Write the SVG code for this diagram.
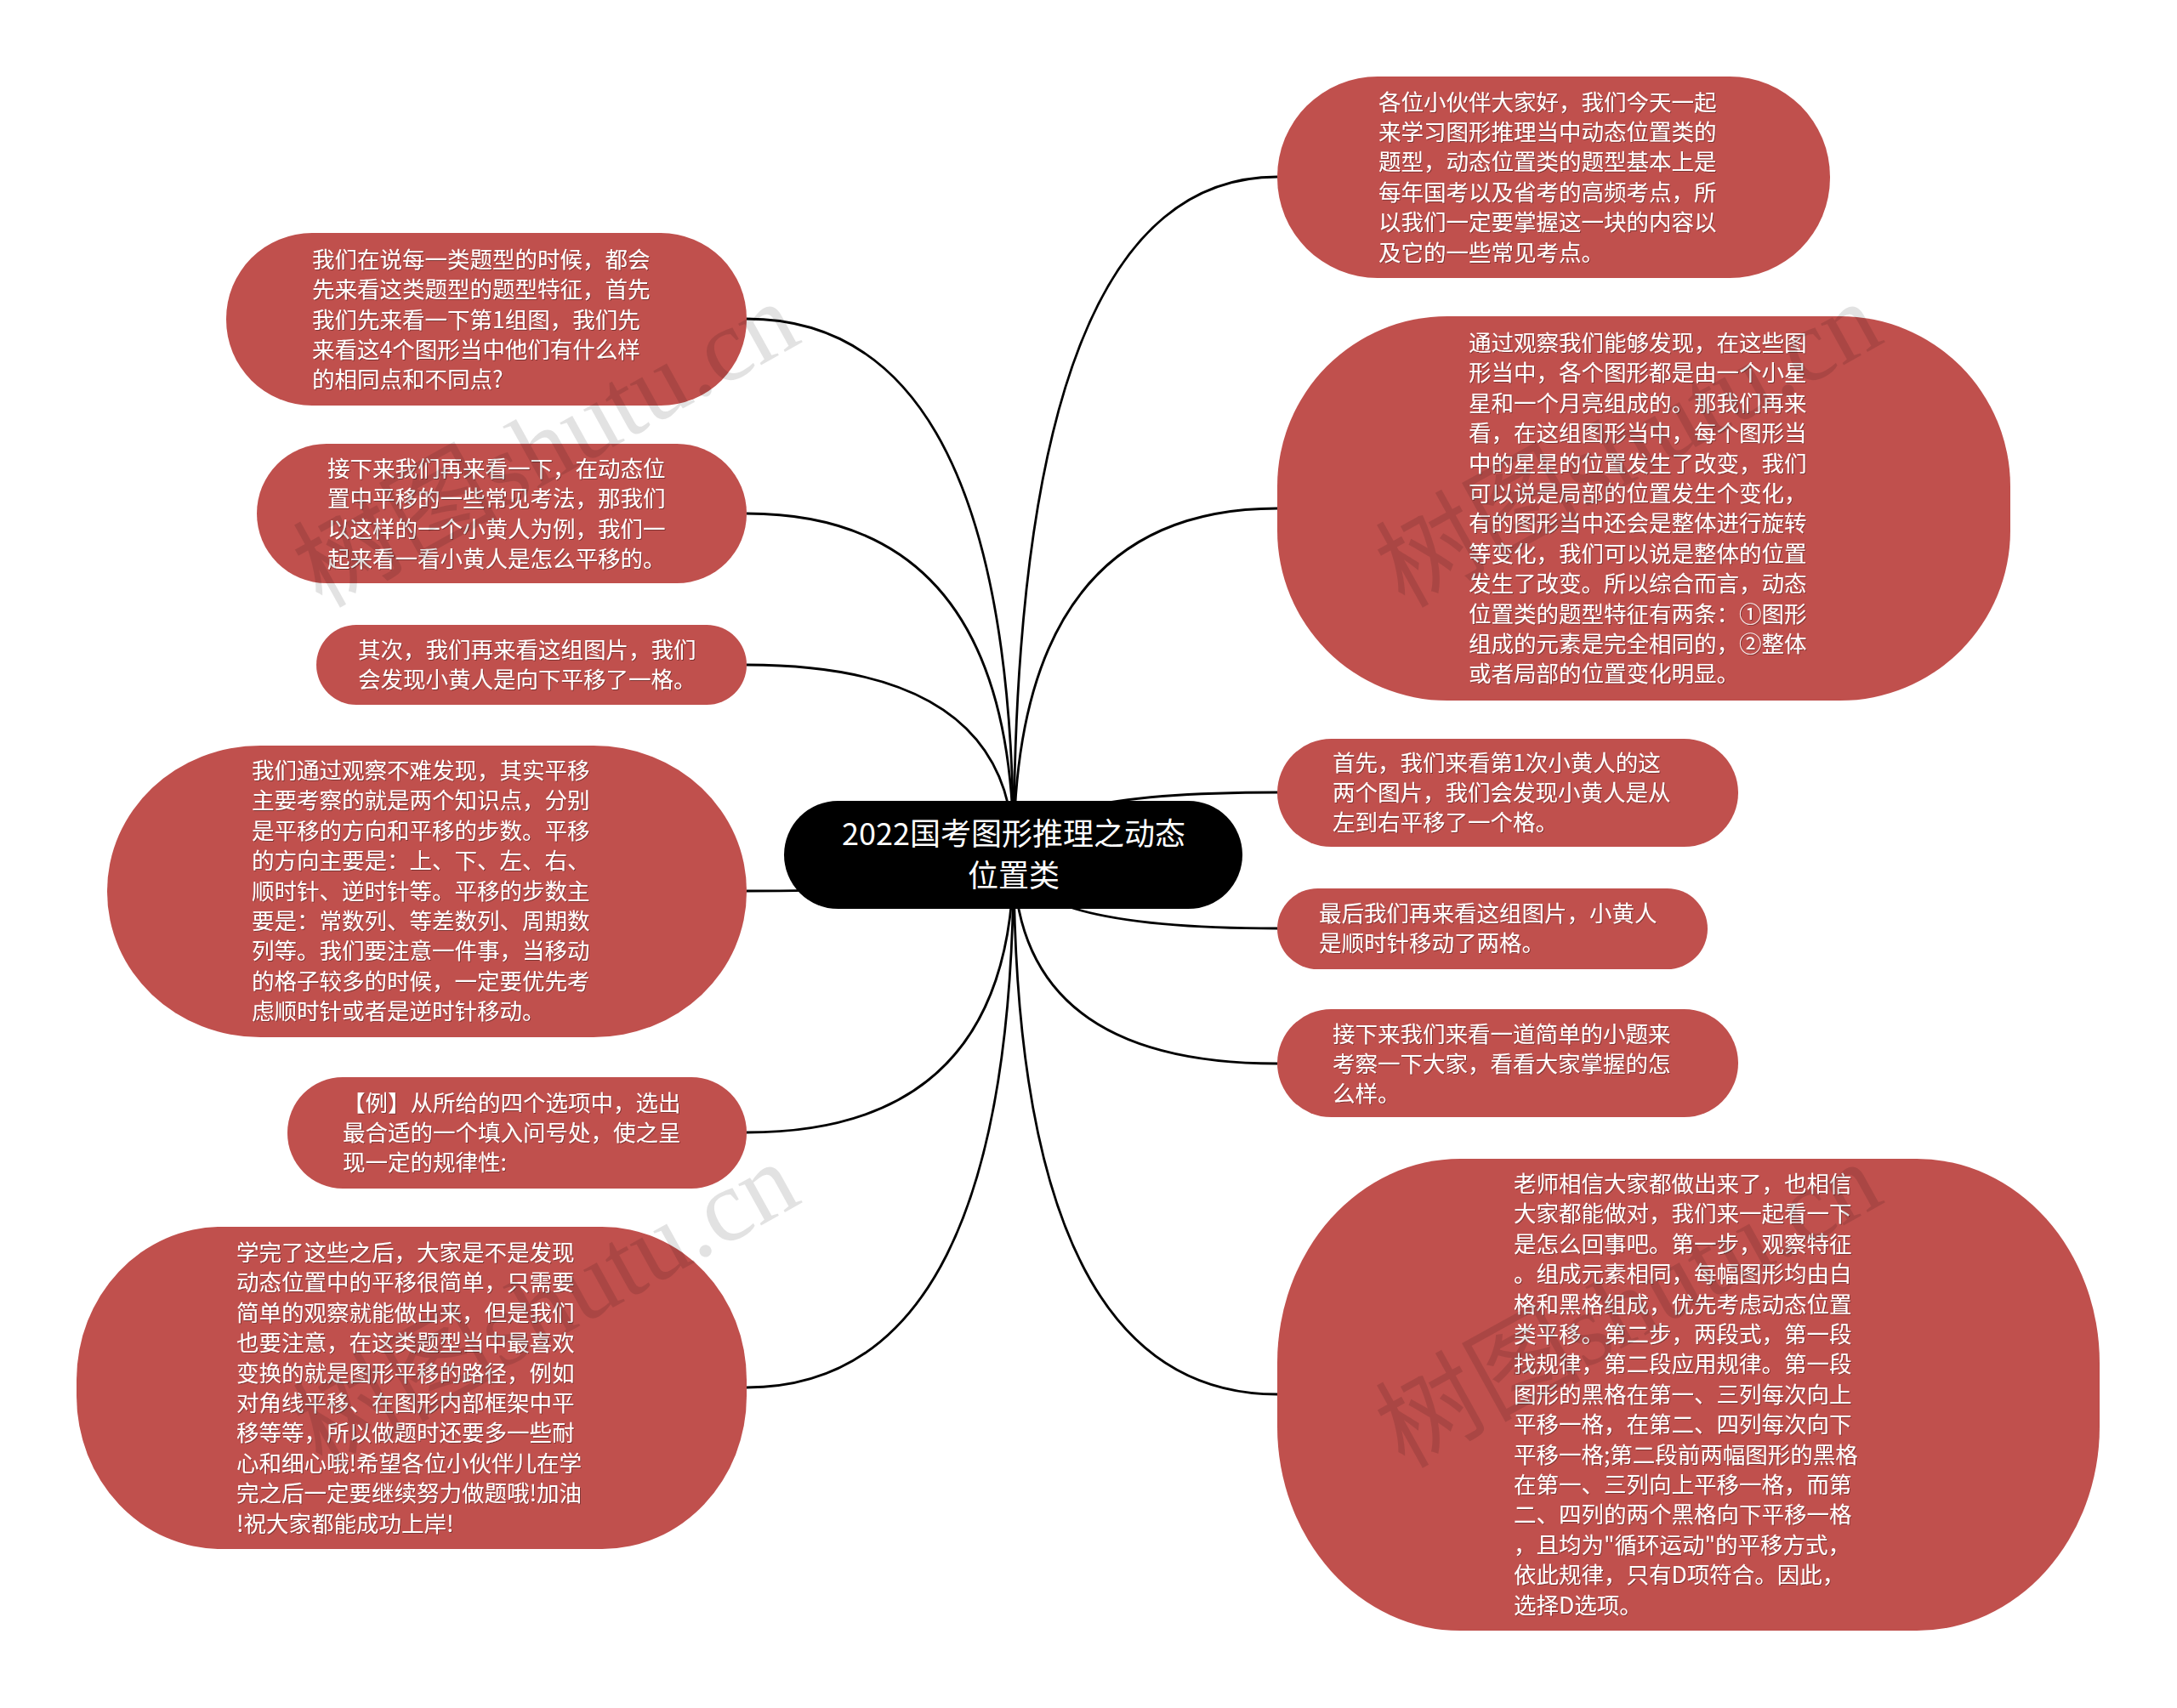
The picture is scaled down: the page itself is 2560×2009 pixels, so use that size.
<svg xmlns="http://www.w3.org/2000/svg" width="2560" height="2009" viewBox="0 0 2560 2009">
<defs>
<style>
.bg{fill:#ffffff}
.edge{fill:none;stroke:#000;stroke-width:2.8}
.box{fill:#c0504d}
.root{fill:#000}
.t{font-family:'Noto Sans CJK SC','Noto Sans',sans-serif;font-size:26.5px;fill:#fff}
.rt{font-family:'Noto Sans CJK SC','Noto Sans',sans-serif;font-size:36px;fill:#fff;text-anchor:middle}
.wm{font-family:'Liberation Serif','Noto Sans CJK SC',serif;font-size:121px;fill:#000;opacity:0.11}
</style>
<filter id="sh" x="-5%" y="-5%" width="110%" height="110%">
<feDropShadow dx="1" dy="1" stdDeviation="0.6" flood-color="#000" flood-opacity="0.35"/>
</filter>
</defs>
<rect class="bg" x="0" y="0" width="2560" height="2009"/>
<g id="connectors">
<path class="edge" d="M1192 1006 Q1192 208 1502 208"/>
<path class="edge" d="M1192 1006 Q1192 598 1502 598"/>
<path class="edge" d="M1192 1006 Q1192 932 1502 932"/>
<path class="edge" d="M1192 1006 Q1192 1092 1502 1092"/>
<path class="edge" d="M1192 1006 Q1192 1251 1502 1251"/>
<path class="edge" d="M1192 1006 Q1192 1640 1502 1640"/>
<path class="edge" d="M1192 1006 Q1192 375 878 375"/>
<path class="edge" d="M1192 1006 Q1192 604 878 604"/>
<path class="edge" d="M1192 1006 Q1192 782 878 782"/>
<path class="edge" d="M1192 1006 Q1192 1048 878 1048"/>
<path class="edge" d="M1192 1006 Q1192 1332 878 1332"/>
<path class="edge" d="M1192 1006 Q1192 1632 878 1632"/>
</g>
<g id="root">
<rect class="root" x="922" y="942" width="539" height="127" rx="63.5" ry="63.5"/>
<text class="rt" x="1192" y="994">2022国考图形推理之动态</text>
<text class="rt" x="1192" y="1043">位置类</text>
</g>
<g id="r1">
<rect class="box" x="1502" y="90" width="650" height="237" rx="118" ry="118"/>
<g class="t" filter="url(#sh)">
<text x="1621" y="129.5">各位小伙伴大家好，我们今天一起</text>
<text x="1621" y="164.9">来学习图形推理当中动态位置类的</text>
<text x="1621" y="200.3">题型，动态位置类的题型基本上是</text>
<text x="1621" y="235.7">每年国考以及省考的高频考点，所</text>
<text x="1621" y="271.1">以我们一定要掌握这一块的内容以</text>
<text x="1621" y="306.5">及它的一些常见考点。</text>
</g>
</g>
<g id="r2">
<rect class="box" x="1502" y="372" width="862" height="452" rx="200" ry="200"/>
<g class="t" filter="url(#sh)">
<text x="1727" y="413">通过观察我们能够发现，在这些图</text>
<text x="1727" y="448.4">形当中，各个图形都是由一个小星</text>
<text x="1727" y="483.8">星和一个月亮组成的。那我们再来</text>
<text x="1727" y="519.2">看，在这组图形当中，每个图形当</text>
<text x="1727" y="554.6">中的星星的位置发生了改变，我们</text>
<text x="1727" y="590">可以说是局部的位置发生个变化，</text>
<text x="1727" y="625.4">有的图形当中还会是整体进行旋转</text>
<text x="1727" y="660.8">等变化，我们可以说是整体的位置</text>
<text x="1727" y="696.2">发生了改变。所以综合而言，动态</text>
<text x="1727" y="731.6">位置类的题型特征有两条：①图形</text>
<text x="1727" y="767">组成的元素是完全相同的，②整体</text>
<text x="1727" y="802.4">或者局部的位置变化明显。</text>
</g>
</g>
<g id="r3">
<rect class="box" x="1502" y="869" width="542" height="127" rx="63.5" ry="63.5"/>
<g class="t" filter="url(#sh)">
<text x="1567" y="906.6">首先，我们来看第1次小黄人的这</text>
<text x="1567" y="942">两个图片，我们会发现小黄人是从</text>
<text x="1567" y="977.4">左到右平移了一个格。</text>
</g>
</g>
<g id="r4">
<rect class="box" x="1502" y="1045" width="506" height="95" rx="47.5" ry="47.5"/>
<g class="t" filter="url(#sh)">
<text x="1551" y="1084">最后我们再来看这组图片，小黄人</text>
<text x="1551" y="1119.4">是顺时针移动了两格。</text>
</g>
</g>
<g id="r5">
<rect class="box" x="1502" y="1187" width="542" height="127" rx="63.5" ry="63.5"/>
<g class="t" filter="url(#sh)">
<text x="1567" y="1225.6">接下来我们来看一道简单的小题来</text>
<text x="1567" y="1261">考察一下大家，看看大家掌握的怎</text>
<text x="1567" y="1296.4">么样。</text>
</g>
</g>
<g id="r6">
<rect class="box" x="1502" y="1363" width="967" height="555" rx="215" ry="240"/>
<g class="t" filter="url(#sh)">
<text x="1780" y="1402">老师相信大家都做出来了，也相信</text>
<text x="1780" y="1437.4">大家都能做对，我们来一起看一下</text>
<text x="1780" y="1472.8">是怎么回事吧。第一步，观察特征</text>
<text x="1780" y="1508.2">。组成元素相同，每幅图形均由白</text>
<text x="1780" y="1543.6">格和黑格组成，优先考虑动态位置</text>
<text x="1780" y="1579">类平移。第二步，两段式，第一段</text>
<text x="1780" y="1614.4">找规律，第二段应用规律。第一段</text>
<text x="1780" y="1649.8">图形的黑格在第一、三列每次向上</text>
<text x="1780" y="1685.2">平移一格，在第二、四列每次向下</text>
<text x="1780" y="1720.6">平移一格;第二段前两幅图形的黑格</text>
<text x="1780" y="1756">在第一、三列向上平移一格，而第</text>
<text x="1780" y="1791.4">二、四列的两个黑格向下平移一格</text>
<text x="1780" y="1826.8">，且均为"循环运动"的平移方式，</text>
<text x="1780" y="1862.2">依此规律，只有D项符合。因此，</text>
<text x="1780" y="1897.6">选择D选项。</text>
</g>
</g>
<g id="l1">
<rect class="box" x="266" y="274" width="612" height="203" rx="101" ry="101"/>
<g class="t" filter="url(#sh)">
<text x="367" y="314.7">我们在说每一类题型的时候，都会</text>
<text x="367" y="350.1">先来看这类题型的题型特征，首先</text>
<text x="367" y="385.5">我们先来看一下第1组图，我们先</text>
<text x="367" y="420.9">来看这4个图形当中他们有什么样</text>
<text x="367" y="456.3">的相同点和不同点?</text>
</g>
</g>
<g id="l2">
<rect class="box" x="302" y="522" width="576" height="164" rx="82" ry="82"/>
<g class="t" filter="url(#sh)">
<text x="385" y="561">接下来我们再来看一下，在动态位</text>
<text x="385" y="596.4">置中平移的一些常见考法，那我们</text>
<text x="385" y="631.8">以这样的一个小黄人为例，我们一</text>
<text x="385" y="667.2">起来看一看小黄人是怎么平移的。</text>
</g>
</g>
<g id="l3">
<rect class="box" x="372" y="735" width="506" height="94" rx="47" ry="47"/>
<g class="t" filter="url(#sh)">
<text x="421" y="774">其次，我们再来看这组图片，我们</text>
<text x="421" y="809.4">会发现小黄人是向下平移了一格。</text>
</g>
</g>
<g id="l4">
<rect class="box" x="126" y="877" width="752" height="343" rx="180" ry="171"/>
<g class="t" filter="url(#sh)">
<text x="296" y="916">我们通过观察不难发现，其实平移</text>
<text x="296" y="951.4">主要考察的就是两个知识点，分别</text>
<text x="296" y="986.8">是平移的方向和平移的步数。平移</text>
<text x="296" y="1022.2">的方向主要是：上、下、左、右、</text>
<text x="296" y="1057.6">顺时针、逆时针等。平移的步数主</text>
<text x="296" y="1093">要是：常数列、等差数列、周期数</text>
<text x="296" y="1128.4">列等。我们要注意一件事，当移动</text>
<text x="296" y="1163.8">的格子较多的时候，一定要优先考</text>
<text x="296" y="1199.2">虑顺时针或者是逆时针移动。</text>
</g>
</g>
<g id="l5">
<rect class="box" x="338" y="1267" width="540" height="131" rx="65" ry="65"/>
<g class="t" filter="url(#sh)">
<text x="403" y="1306.6">【例】从所给的四个选项中，选出</text>
<text x="403" y="1342">最合适的一个填入问号处，使之呈</text>
<text x="403" y="1377.4">现一定的规律性:</text>
</g>
</g>
<g id="l6">
<rect class="box" x="90" y="1443" width="788" height="379" rx="170" ry="180"/>
<g class="t" filter="url(#sh)">
<text x="278" y="1483">学完了这些之后，大家是不是发现</text>
<text x="278" y="1518.4">动态位置中的平移很简单，只需要</text>
<text x="278" y="1553.8">简单的观察就能做出来，但是我们</text>
<text x="278" y="1589.2">也要注意，在这类题型当中最喜欢</text>
<text x="278" y="1624.6">变换的就是图形平移的路径，例如</text>
<text x="278" y="1660">对角线平移、在图形内部框架中平</text>
<text x="278" y="1695.4">移等等，所以做题时还要多一些耐</text>
<text x="278" y="1730.8">心和细心哦!希望各位小伙伴儿在学</text>
<text x="278" y="1766.2">完之后一定要继续努力做题哦!加油</text>
<text x="278" y="1801.6">!祝大家都能成功上岸!</text>
</g>
</g>
<g id="watermarks">
<text class="wm" transform="translate(378 716) rotate(-29)">树图shutu.cn</text>
<text class="wm" transform="translate(1651 716) rotate(-29)">树图shutu.cn</text>
<text class="wm" transform="translate(378 1728) rotate(-29)">树图shutu.cn</text>
<text class="wm" transform="translate(1651 1728) rotate(-29)">树图shutu.cn</text>
</g>
</svg>
